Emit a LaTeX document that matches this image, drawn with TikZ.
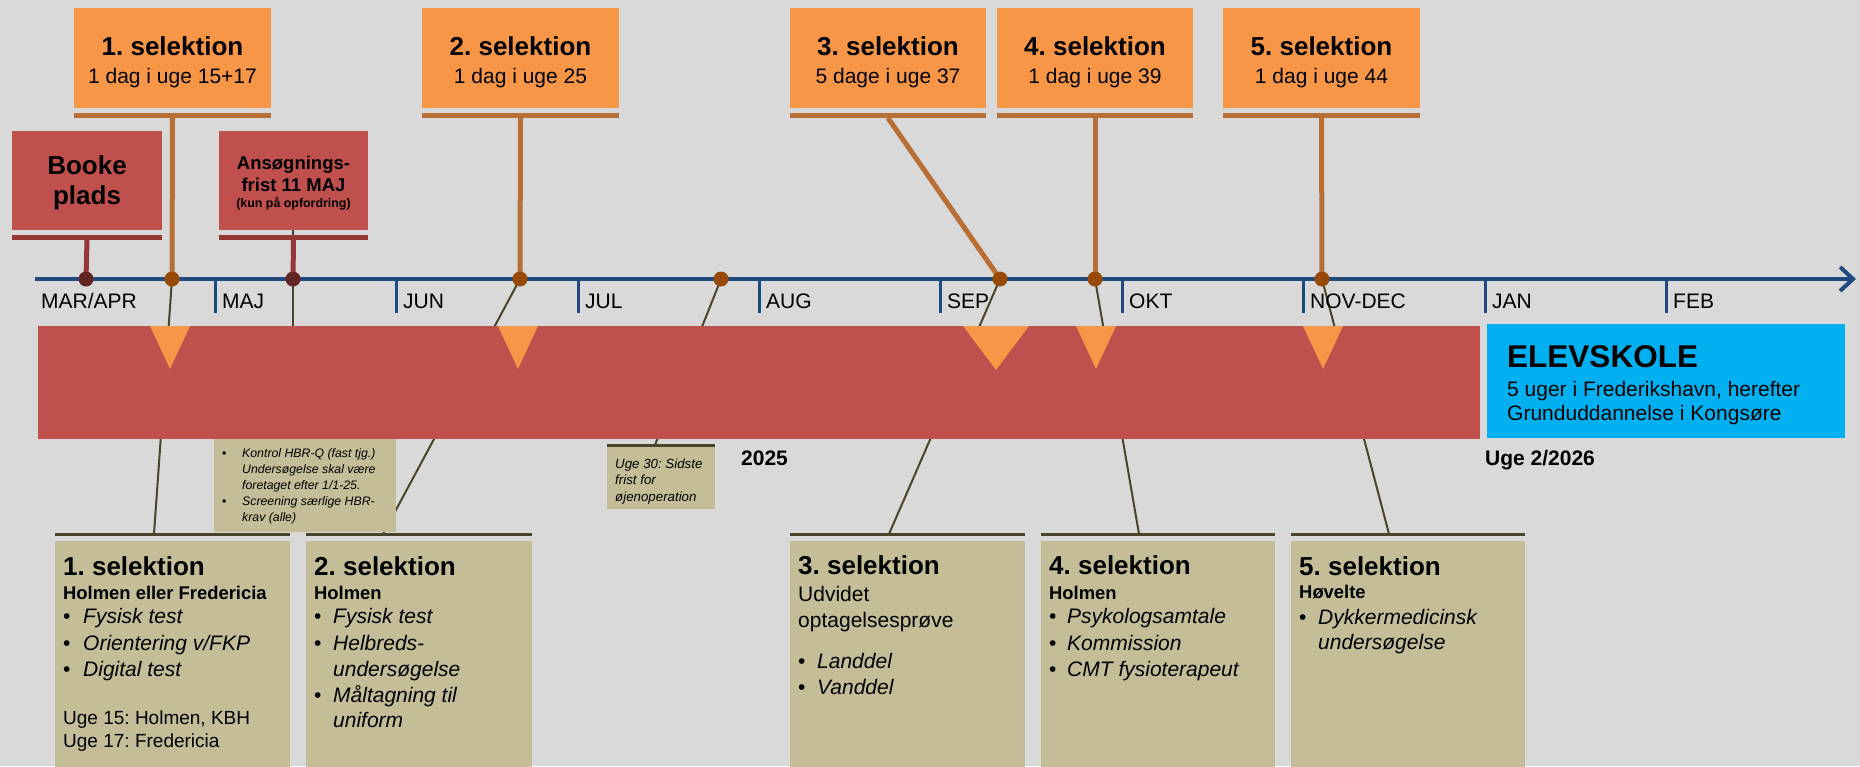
\documentclass[tikz,border=0pt]{standalone}
\usepackage{fontspec}
\setmainfont{Liberation Sans}
\usetikzlibrary{arrows.meta}
\frenchspacing
\definecolor{bg}{HTML}{D9D9D9}
\definecolor{orng}{HTML}{F79646}
\definecolor{orngbar}{HTML}{B86F36}
\definecolor{dotor}{HTML}{984807}
\definecolor{redb}{HTML}{C0504D}
\definecolor{redbar}{HTML}{953735}
\definecolor{dotred}{HTML}{632523}
\definecolor{tlblue}{HTML}{1F497D}
\definecolor{tanb}{HTML}{C4BD97}
\definecolor{olive}{HTML}{4A452A}
\definecolor{sky}{HTML}{00B0F0}
\newcommand\fTitle{\fontsize{26}{30}\selectfont\bfseries}
\newcommand\fSub{\fontsize{21}{25}\selectfont}
\newcommand\fItl{\fontsize{21}{25}\selectfont\itshape}
\newcommand\fLoc{\fontsize{18.4}{22}\selectfont\bfseries}
\newcommand\fUge{\fontsize{19}{22}\selectfont}
\newcommand\fNote{\fontsize{12.3}{16}\selectfont\itshape}
\newcommand\fNoteB{\fontsize{13.3}{16}\selectfont\itshape}
\newcommand\fAns{\fontsize{18.5}{22}\selectfont\bfseries}
\newcommand\fAnsS{\fontsize{12.4}{15}\selectfont\bfseries}
\newcommand\fYear{\fontsize{21}{25}\selectfont\bfseries}
\newcommand\fElev{\fontsize{31.5}{36}\selectfont\bfseries}
\newcommand\bx[6]{\node[rbox,fill=#2,minimum width=#5pt,minimum height=#6pt] (#1) at (#3,#4) {};}
\newcommand\tlx[5]{\node[anchor=base west,inner sep=0pt,font=#4] (#1) at (#2,#3) {#5};}
\newcommand\tcx[5]{\node[anchor=base,inner sep=0pt,font=#4] (#1) at (#2,#3) {#5};}
\newcommand\bul[2]{\makebox[#1pt][l]{\upshape\textbullet}#2}
\begin{document}
\begin{tikzpicture}[x=1pt,y=-1pt,
  rbox/.style={anchor=north west,inner sep=0pt,outer sep=0pt,draw=none},
  conn/.style={draw=olive,line width=2pt},
  stemO/.style={draw=orngbar,line width=5pt},
  stemR/.style={draw=redbar,line width=5pt},
  tickm/.style={draw=tlblue,line width=3pt},
  dotnode/.style={circle,inner sep=0pt,outer sep=0pt,minimum size=15pt,draw=none},
  mon/.style={anchor=base west,inner sep=0pt,font=\fSub}]
\useasboundingbox (0,0) rectangle (1860,766);
\fill[bg] (0,0) rectangle (1860,766);

% anchor points
\coordinate (p0) at (86,279);
\coordinate (p1) at (172,279);
\coordinate (pM) at (293,279);
\coordinate (p2) at (520,279);
\coordinate (pJ) at (721,279);
\coordinate (p3) at (1000,279);
\coordinate (p4) at (1095,279);
\coordinate (p5) at (1322,279);
\coordinate (e1) at (154,534);
\coordinate (e2) at (383,534);
\coordinate (eJ) at (655,445);
\coordinate (e3) at (889,534);
\coordinate (e4) at (1139,534);
\coordinate (e5) at (1389,534);
\coordinate (ansb) at (293,230);
\coordinate (hbrtop) at (293,440);

% thin connectors (behind everything)
\draw[conn] (p1) -- (e1);
\draw[conn] (ansb) -- (hbrtop);
\draw[conn] (p2) -- (e2);
\draw[conn] (pJ) -- (eJ);
\draw[conn] (p3) -- (e3);
\draw[conn] (p4) -- (e4);
\draw[conn] (p5) -- (e5);

% timeline
\coordinate (tls) at (35,279);
\coordinate (tle) at (1856,279);
\draw[draw=tlblue,line width=4pt,-{Straight Barb[length=13pt,width=24pt]}] (tls) -- (tle);
\foreach \x in {215,396,578,759,940,1122,1303,1485,1666}{\draw[tickm] (\x,279) -- (\x,313);}
\node[mon] (mMA) at (41,308) {MAR/APR};
\node[mon] (mMJ) at (222,308) {MAJ};
\node[mon] (mJN) at (403,308) {JUN};
\node[mon] (mJL) at (585,308) {JUL};
\node[mon] (mAU) at (766,308) {AUG};
\node[mon] (mSE) at (947,308) {SEP};
\node[mon] (mOK) at (1129,308) {OKT};
\node[mon] (mND) at (1310,308) {NOV-DEC};
\node[mon] (mJA) at (1492,308) {JAN};
\node[mon] (mFE) at (1673,308) {FEB};

% top boxes
\bx{t1}{orng}{74}{8}{197}{100}
\bx{t1bar}{orngbar}{74}{113}{197}{5}
\bx{t2}{orng}{422}{8}{197}{100}
\bx{t2bar}{orngbar}{422}{113}{197}{5}
\bx{t3}{orng}{790}{8}{196}{100}
\bx{t3bar}{orngbar}{790}{113}{196}{5}
\bx{t4}{orng}{997}{8}{196}{100}
\bx{t4bar}{orngbar}{997}{113}{196}{5}
\bx{t5}{orng}{1223}{8}{197}{100}
\bx{t5bar}{orngbar}{1223}{113}{197}{5}
\bx{bk}{redb}{12}{131}{150}{99}
\bx{bkbar}{redbar}{12}{235}{150}{5}
\bx{an}{redb}{219}{131}{149}{99}
\bx{anbar}{redbar}{219}{235}{149}{5}

% stems
\draw[stemO] (t1bar.south) -- (p1);
\draw[stemO] (t2bar.south) -- (p2);
\draw[stemO] (t3bar.south) -- (p3);
\draw[stemO] (t4bar.south) -- (p4);
\draw[stemO] (t5bar.south) -- (p5);
\draw[stemR] (bkbar.south) -- (p0);
\draw[stemR] (anbar.south) -- (pM);

% dots
\node[dotnode,fill=dotred] (d0) at (p0) {};
\node[dotnode,fill=dotor] (d1) at (p1) {};
\node[dotnode,fill=dotred] (dM) at (pM) {};
\node[dotnode,fill=dotor] (d2) at (p2) {};
\node[dotnode,fill=dotor] (dJ) at (pJ) {};
\node[dotnode,fill=dotor] (d3) at (p3) {};
\node[dotnode,fill=dotor] (d4) at (p4) {};
\node[dotnode,fill=dotor] (d5) at (p5) {};

% top texts
\tcx{t1a}{172.5}{55}{\fTitle}{1. selektion}
\tcx{t1b}{172.5}{83}{\fSub}{1 dag i uge 15+17}
\tcx{t2a}{520.5}{55}{\fTitle}{2. selektion}
\tcx{t2b}{520.5}{83}{\fSub}{1 dag i uge 25}
\tcx{t3a}{888}{55}{\fTitle}{3. selektion}
\tcx{t3b}{888}{83}{\fSub}{5 dage i uge 37}
\tcx{t4a}{1095}{55}{\fTitle}{4. selektion}
\tcx{t4b}{1095}{83}{\fSub}{1 dag i uge 39}
\tcx{t5a}{1321.5}{55}{\fTitle}{5. selektion}
\tcx{t5b}{1321.5}{83}{\fSub}{1 dag i uge 44}
\tcx{bka}{87}{174}{\fTitle}{Booke}
\tcx{bkb}{87}{204}{\fTitle}{plads}
\tcx{ana}{293.5}{169}{\fAns}{Ansøgnings-}
\tcx{anb}{293.5}{191}{\fAns}{frist 11 MAJ}
\tcx{anc}{293.5}{207.5}{\fAnsS}{(kun på opfordring)}

% HBR note (under the band)
\bx{hbr}{tanb}{214}{430}{182}{102}

% band and elevskole
\bx{band}{redb}{38}{326}{1442}{113}
\bx{elev}{sky}{1487}{324}{358}{114}
\fill[orng] (150,326) -- (190,326) -- (170,369) -- cycle;
\fill[orng] (498,326) -- (538,326) -- (518,369) -- cycle;
\fill[orng] (963,326) -- (1029,326) -- (996,370) -- cycle;
\fill[orng] (1076,326) -- (1116,326) -- (1096,369) -- cycle;
\fill[orng] (1303,326) -- (1343,326) -- (1323,369) -- cycle;
\tlx{ela}{1507}{367}{\fElev}{ELEVSKOLE}
\tlx{elb}{1507}{396}{\fSub}{5 uger i Frederikshavn, herefter}
\tlx{elc}{1507}{420}{\fSub}{Grunduddannelse i Kongsøre}

% notes
\tlx{hb1}{222}{457.5}{\fNote}{\bul{20}{Kontrol HBR-Q (fast tjg.)}}
\tlx{hb2}{242}{473.5}{\fNote}{Undersøgelse skal være}
\tlx{hb3}{242}{489.5}{\fNote}{foretaget efter 1/1-25.}
\tlx{hb4}{222}{505.5}{\fNote}{\bul{20}{Screening særlige HBR-}}
\tlx{hb5}{242}{521.5}{\fNote}{krav (alle)}
\bx{u30bar}{olive}{607}{443.5}{108}{3}
\bx{u30}{tanb}{607}{446.5}{108}{62.5}
\tlx{u1}{615}{468}{\fNoteB}{Uge 30: Sidste}
\tlx{u2}{615}{484}{\fNoteB}{frist for}
\tlx{u3}{615}{501}{\fNoteB}{øjenoperation}
\tlx{yr}{741}{465}{\fYear}{2025}
\tlx{yr2}{1485}{465}{\fYear}{Uge 2/2026}

% bottom boxes
\bx{b1bar}{olive}{55}{533}{235}{3}
\bx{b1}{tanb}{55}{541}{235}{230}
\bx{b2bar}{olive}{306}{533}{226}{3}
\bx{b2}{tanb}{306}{541}{226}{230}
\bx{b3bar}{olive}{790}{533}{235}{3}
\bx{b3}{tanb}{790}{541}{235}{230}
\bx{b4bar}{olive}{1041}{533}{234}{3}
\bx{b4}{tanb}{1041}{541}{234}{230}
\bx{b5bar}{olive}{1291}{533}{234}{3}
\bx{b5}{tanb}{1291}{541}{234}{230}

\tlx{b1a}{63}{575}{\fTitle}{1. selektion}
\tlx{b1b}{63}{599}{\fLoc}{Holmen eller Fredericia}
\tlx{b1c}{63}{623}{\fItl}{\bul{20}{Fysisk test}}
\tlx{b1d}{63}{650}{\fItl}{\bul{20}{Orientering v/FKP}}
\tlx{b1e}{63}{676}{\fItl}{\bul{20}{Digital test}}
\tlx{b1f}{63}{724}{\fUge}{Uge 15: Holmen, KBH}
\tlx{b1g}{63}{747}{\fUge}{Uge 17: Fredericia}

\tlx{b2a}{314}{575}{\fTitle}{2. selektion}
\tlx{b2b}{314}{599}{\fLoc}{Holmen}
\tlx{b2c}{314}{623}{\fItl}{\bul{19}{Fysisk test}}
\tlx{b2d}{314}{650}{\fItl}{\bul{19}{Helbreds-}}
\tlx{b2e}{333}{676}{\fItl}{undersøgelse}
\tlx{b2f}{314}{702}{\fItl}{\bul{19}{Måltagning til}}
\tlx{b2g}{333}{727}{\fItl}{uniform}

\tlx{b3a}{798}{574}{\fTitle}{3. selektion}
\tlx{b3b}{798}{601}{\fSub}{Udvidet}
\tlx{b3c}{798}{627}{\fSub}{optagelsesprøve}
\tlx{b3d}{798}{668}{\fItl}{\bul{19}{Landdel}}
\tlx{b3e}{798}{694}{\fItl}{\bul{19}{Vanddel}}

\tlx{b4a}{1049}{574}{\fTitle}{4. selektion}
\tlx{b4b}{1049}{599}{\fLoc}{Holmen}
\tlx{b4c}{1049}{623}{\fItl}{\bul{18}{Psykologsamtale}}
\tlx{b4d}{1049}{650}{\fItl}{\bul{18}{Kommission}}
\tlx{b4e}{1049}{676}{\fItl}{\bul{18}{CMT fysioterapeut}}

\tlx{b5a}{1299}{575}{\fTitle}{5. selektion}
\tlx{b5b}{1299}{598}{\fLoc}{Høvelte}
\tlx{b5c}{1299}{624}{\fItl}{\bul{19}{Dykkermedicinsk}}
\tlx{b5d}{1318}{649}{\fItl}{undersøgelse}
\end{tikzpicture}
\end{document}
